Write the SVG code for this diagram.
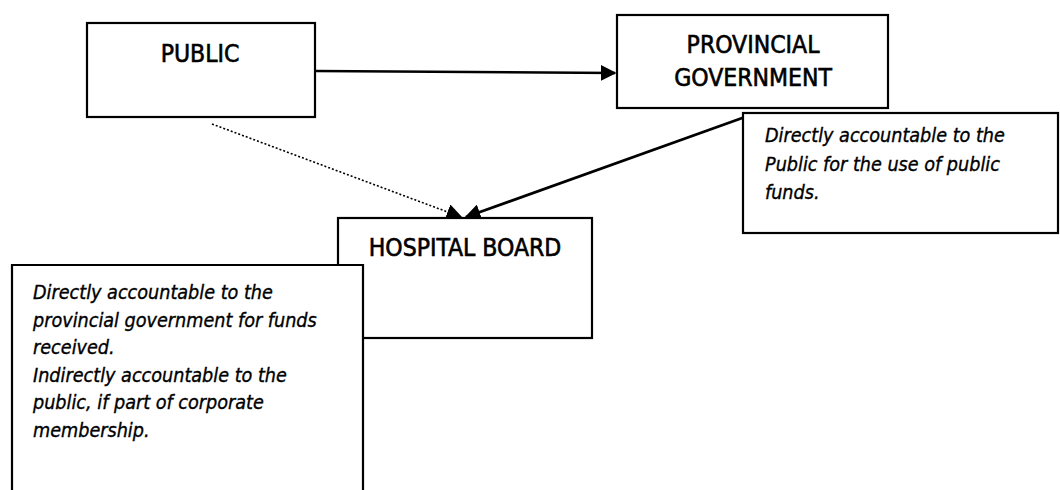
<svg xmlns="http://www.w3.org/2000/svg" width="1060" height="490" viewBox="0 0 1060 490">
<style>
.box{fill:#fff;stroke:#000;stroke-width:2.2}
.lbl{font-family:"DejaVu Sans Condensed","DejaVu Sans","Liberation Sans",sans-serif;font-stretch:condensed;font-size:24.5px;fill:#000;stroke:#000;stroke-width:0.6;text-anchor:middle}
.note{font-family:"DejaVu Sans Condensed","DejaVu Sans","Liberation Sans",sans-serif;font-stretch:condensed;font-style:italic;font-size:19.6px;fill:#000;stroke:#000;stroke-width:0.35}
.conn{fill:none;stroke:#000}
</style>
<defs>
<marker id="ah" viewBox="0 0 10 10" refX="9" refY="5" markerWidth="16" markerHeight="16" markerUnits="userSpaceOnUse" orient="auto">
<path d="M0,0 L10,5 L0,10 Z" fill="#000"/>
</marker>
</defs>
<rect width="1060" height="490" fill="#fff"/>
<g id="connectors">
<line class="conn" x1="315" y1="71" x2="615" y2="73" stroke-width="2.5" marker-end="url(#ah)"/>
<line class="conn" x1="745" y1="117" x2="466" y2="217" stroke-width="2.8" marker-end="url(#ah)"/>
<line class="conn" x1="212" y1="124" x2="461" y2="217" stroke-width="1.6" stroke-dasharray="2,2" marker-end="url(#ah)"/>
</g>
<g id="public">
<rect class="box" x="87" y="23" width="228" height="94"/>
<text class="lbl" x="200" y="62">PUBLIC</text>
</g>
<g id="provincial">
<rect class="box" x="617" y="15" width="271" height="93"/>
<text class="lbl" x="753" y="53">PROVINCIAL</text>
<text class="lbl" x="753" y="86">GOVERNMENT</text>
</g>
<g id="provincial-note">
<rect class="box" x="743" y="113" width="315" height="120"/>
<text class="note" x="765" y="142">Directly accountable to the</text>
<text class="note" x="765" y="171">Public for the use of public</text>
<text class="note" x="765" y="199">funds.</text>
</g>
<g id="hospital">
<rect class="box" x="338" y="218" width="254" height="120"/>
<text class="lbl" x="465" y="256">HOSPITAL BOARD</text>
</g>
<g id="hospital-note">
<path class="box" d="M12,492 L12,265 L363,265 L363,492"/>
<text class="note" x="33" y="299">Directly accountable to the</text>
<text class="note" x="33" y="327">provincial government for funds</text>
<text class="note" x="33" y="354">received.</text>
<text class="note" x="33" y="382">Indirectly accountable to the</text>
<text class="note" x="33" y="409">public, if part of corporate</text>
<text class="note" x="33" y="437">membership.</text>
</g>
</svg>
